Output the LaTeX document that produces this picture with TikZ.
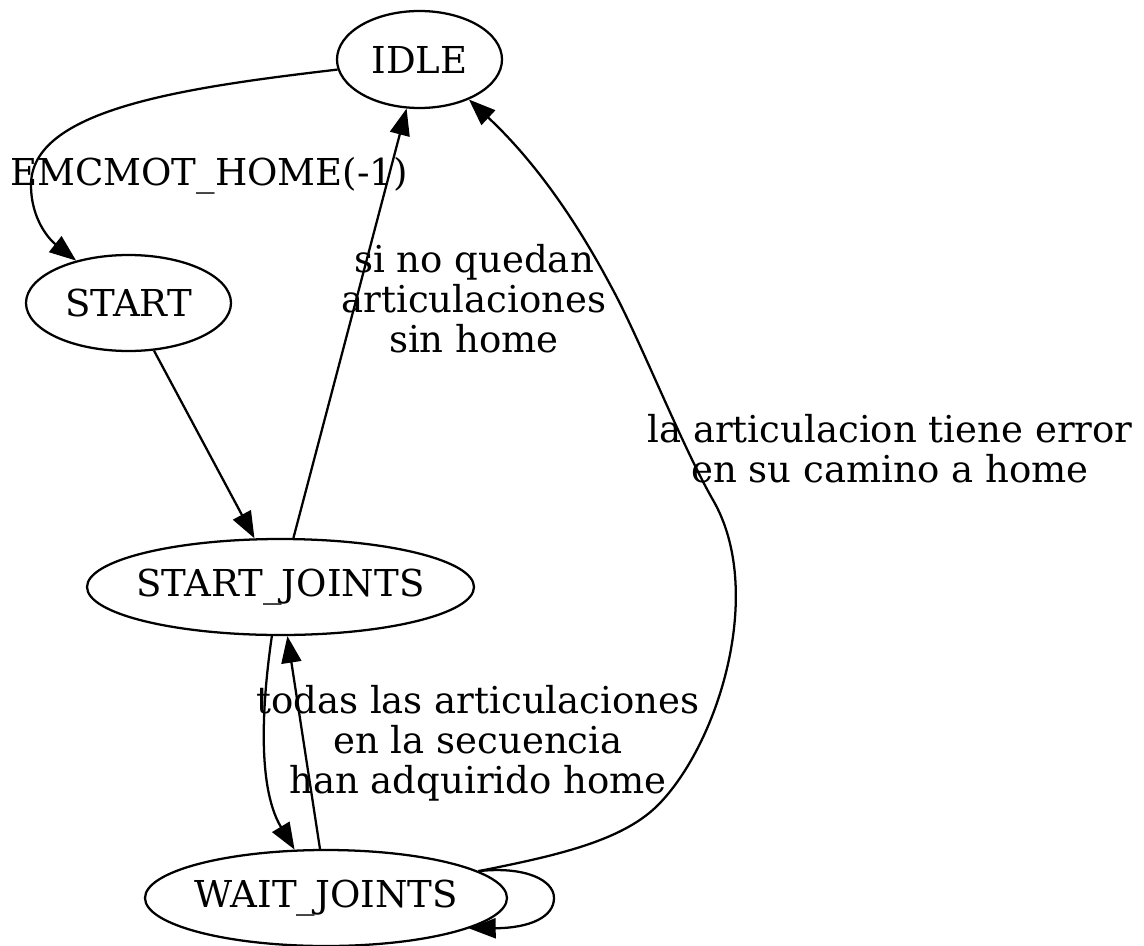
\documentclass[tikz,border=0pt]{standalone}
\usepackage{fontspec}
\setmainfont{DejaVu Serif}
\usetikzlibrary{arrows.meta,shapes.geometric}
\newcommand{\zw}[1]{\makebox[0pt]{#1}}
\begin{document}
\begin{tikzpicture}[x=0.75pt,y=-0.75pt,
  state/.style={ellipse, draw, line width=1.7pt, inner sep=0pt, font=\fontsize{27.8}{30}\selectfont},
  lbl/.style={align=center, inner sep=0pt, font=\fontsize{27.8}{30}\selectfont},
  edge/.style={line width=1.7pt, -{Triangle[length=20pt,width=15pt]}}]
\useasboundingbox (0,0) rectangle (1144,945);
\node[state, minimum width=123.75pt, minimum height=72.75pt] (idle) at (419.5,59.5) {\zw{IDLE}};
\node[state, minimum width=153.75pt, minimum height=72pt] (start) at (128.5,303) {\zw{START}};
\node[state, minimum width=290.25pt, minimum height=72pt] (sj) at (280.5,587) {\zw{START\_JOINTS}};
\node[state, minimum width=271.5pt, minimum height=72pt] (wj) at (326,898) {\zw{WAIT\_JOINTS}};
% edges
\draw[edge] (idle.187) .. controls (180,88) and (31,110) .. (31,185)
  .. controls (31,220) and (50,240) .. (start.141);
\node[lbl] (l1) at (209,176) {EMCMOT\_HOME(-1)};
\draw[edge] (start) -- (sj);
\draw[edge] (sj) -- (idle);
\node[lbl] (l2) at (474,299) {si no quedan\\articulaciones\\sin home};
\draw[edge] (sj.260) .. controls (264,690) and (255,784) .. (wj.123);
\draw[edge] (wj.97) -- (sj.278);
\node[lbl] (l3) at (478,743) {todas las articulaciones\\en la secuencia\\han adquirido home};
\draw[edge] (wj.10) .. controls (560,855) and (625,840) .. (660,803)
  .. controls (720,740) and (765,590) .. (713,500)
  .. controls (683,448) and (640,340) .. (613,290)
  .. controls (599,264) and (555,180) .. (idle.321);
\node[lbl] (l4) at (890,449) {la articulacion tiene error\\en su camino a home};
\draw[edge] (wj.10) .. controls (525,866) and (554,880) .. (554,898)
  .. controls (554,917) and (530,928) .. (wj.348);
\end{tikzpicture}
\end{document}
